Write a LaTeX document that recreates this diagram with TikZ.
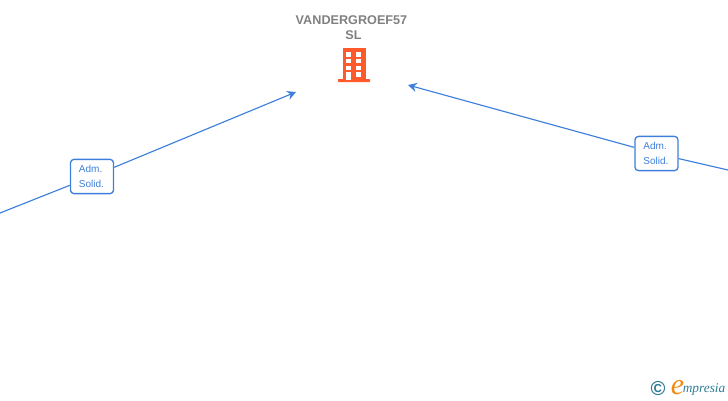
\documentclass[tikz,border=0pt]{standalone}
\usepackage{fontspec}
\setmainfont{Liberation Sans}
\newfontfamily\logofont{Liberation Serif}
\usetikzlibrary{arrows.meta}
\definecolor{linkblue}{HTML}{3D7FDB}
\definecolor{titlegray}{HTML}{808080}
\definecolor{iconred}{HTML}{FF5A2B}
\definecolor{logoteal}{HTML}{2F7C95}
\definecolor{logoorange}{HTML}{F08A12}
\tikzset{
  adm/.style={draw=linkblue, fill=white, rounded corners=2pt, line width=0.75pt,
    text=linkblue, font=\fontsize{5.7}{8.6}\selectfont, align=left,
    minimum width=24.5pt, minimum height=19.5pt, inner sep=0pt},
  link/.style={draw=linkblue, line width=0.65pt},
  linkarrow/.style={link, -{Stealth[length=5pt,width=5.2pt]}},
}
\begin{document}
\begin{tikzpicture}[x=0.02cm,y=-0.02cm]
    \useasboundingbox (0,0) rectangle (728,400);
    \node[align=center, text=titlegray, font=\fontsize{7.2}{8.5}\selectfont\bfseries]
      (company) at (351.5,28) {VANDERGROEF57\\\hspace{2.2pt}SL};
    % building
    \fill[iconred] (342.5,48) rectangle (365.5,80);
    \fill[iconred, rounded corners=0.4pt] (338,79) rectangle (370,82);
    \foreach \wx/\wy/\wh in
      {346.2/52/4.6,356.2/52/4.6,346.2/59/4.2,356.2/59/4.2,
       346.2/65.8/4.2,356.2/65.8/4.2,346.2/72.3/7.7,356.2/72.3/4.6} {
      \fill[white] (\wx,\wy) rectangle (\wx+5,\wy+\wh);
    }
    \coordinate (leftend) at (0,213);
    \coordinate (lefttip) at (296,92);
    \coordinate (rightend) at (728,170);
    \coordinate (righttip) at (408,85);
    \node[adm] (admleft) at (92,176.5) {\hspace{-0.6pt}Adm.\\\hspace{-0.6pt}Solid.};
    \node[adm] (admright) at (656.5,153.5) {\hspace{-0.6pt}Adm.\\\hspace{-0.6pt}Solid.};
    \draw[link] (leftend) -- (admleft);
    \draw[linkarrow] (admleft) -- (lefttip);
    \draw[link] (rightend) -- (admright);
    \draw[linkarrow] (admright) -- (righttip);
    % logo
    \node[text=logoteal, font=\fontsize{11.5}{12}\selectfont\bfseries, inner sep=0pt]
      (copyr) at (658,389) {©};
    \node[text=logoorange, font=\fontsize{17}{17}\logofont\itshape, inner sep=0pt]
      (logoe) at (677.5,387.5) {e};
    \node[text=logoteal, font=\fontsize{7.6}{8}\logofont\itshape, inner sep=0pt, anchor=base west]
      (logoname) at (682.5,392) {mpresia};
  \end{tikzpicture}
\end{document}
